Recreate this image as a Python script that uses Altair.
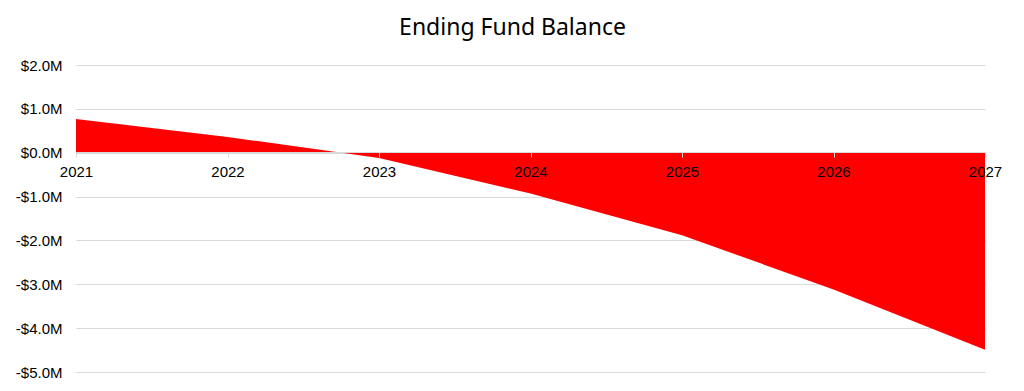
import altair as alt
import pandas as pd

years = [2021, 2022, 2023, 2024, 2025, 2026, 2027]
balance_m = [0.77, 0.36, -0.12, -0.93, -1.88, -3.12, -4.49]
y_ticks = [-5, -4, -3, -2, -1, 0, 1, 2]

df = pd.DataFrame({"year": years, "balance": balance_m})

label_expr = ("datum.value < 0 ? '-$' + format(abs(datum.value), '.1f') + 'M' "
              ": '$' + format(datum.value, '.1f') + 'M'")

chart = alt.Chart(df).mark_area(color="#FF0000", opacity=1).encode(
    x=alt.X("year:Q",
            scale=alt.Scale(domain=[2021, 2027], nice=False, zero=False),
            axis=alt.Axis(title=None, values=years, format="d", grid=False,
                          offset=-220, domainColor="#d9d9d9", domainWidth=1,
                          tickColor="#d9d9d9", tickSize=5, labelPadding=7,
                          labelFlush=False, labelOverlap=False,
                          labelFont="Liberation Sans", labelFontSize=15,
                          labelColor="#000000", zindex=1)),
    y=alt.Y("balance:Q",
            scale=alt.Scale(domain=[-5, 2], nice=False),
            axis=alt.Axis(title=None, values=y_ticks, labelExpr=label_expr,
                          grid=True, gridColor="#d9d9d9", gridWidth=1,
                          domain=False, ticks=False, tickSize=0, labelPadding=14,
                          labelFont="Liberation Sans", labelFontSize=15,
                          labelColor="#000000")),
).properties(
    width=909,
    height=307,
    title=alt.TitleParams("Ending Fund Balance", font="Noto Sans", fontSize=23,
                          fontWeight="normal", color="#000000", anchor="middle",
                          dx=-18, offset=18),
    autosize=alt.AutoSizeParams(type="none"),
    padding={"left": 68, "top": 57, "right": 30, "bottom": 10},
).configure_view(stroke=None)

chart.save("out.html", embed_options={"renderer": "svg", "actions": False})
